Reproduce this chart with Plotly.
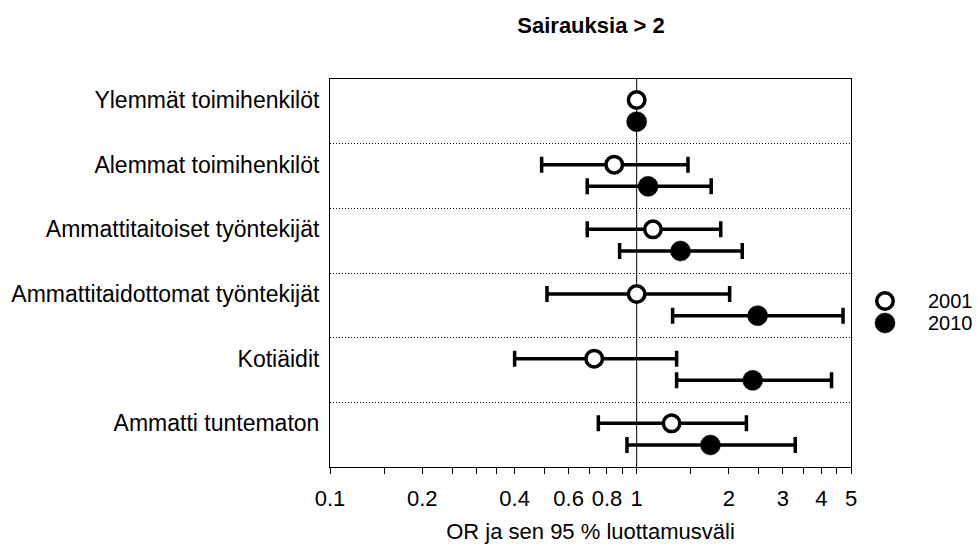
import math
import plotly.graph_objects as go

# Occupational groups, top to bottom
categories = [
    "Ylemmät toimihenkilöt",
    "Alemmat toimihenkilöt",
    "Ammattitaitoiset työntekijät",
    "Ammattitaidottomat työntekijät",
    "Kotiäidit",
    "Ammatti tuntematon",
]

# Odds ratios and 95 % confidence limits (reference group has no interval)
or_2001 = [1.0, 0.845, 1.13, 1.0, 0.727, 1.30]
lo_2001 = [None, 0.49, 0.69, 0.51, 0.40, 0.75]
hi_2001 = [None, 1.47, 1.88, 2.01, 1.35, 2.28]

or_2010 = [1.0, 1.09, 1.39, 2.48, 2.39, 1.74]
lo_2010 = [None, 0.69, 0.88, 1.31, 1.35, 0.93]
hi_2010 = [None, 1.75, 2.21, 4.71, 4.32, 3.29]

x_tickvals = [0.1, 0.15, 0.2, 0.25, 0.3, 0.35, 0.4, 0.5, 0.6, 0.7, 0.8, 0.9,
              1, 1.5, 2, 2.5, 3, 3.5, 4, 4.5, 5]
x_labelled = ["0.1", "0.2", "0.4", "0.6", "0.8", "1", "2", "3", "4", "5"]

FONT = "Arial, Liberation Sans, Helvetica, sans-serif"
FS = 22

x_ticktext = [("%g" % v) if ("%g" % v) in x_labelled else "" for v in x_tickvals]


def err_plus(c, h):
    return [None if hh is None else hh - cc for cc, hh in zip(c, h)]


def err_minus(c, l):
    return [None if ll is None else cc - ll for cc, ll in zip(c, l)]


OFFSET_2010 = 0.335
y_2001 = [i for i in range(len(categories))]
y_2010 = [i + OFFSET_2010 for i in range(len(categories))]

W, H = 979, 544
ML, MR, MT, MB = 330, 128, 79, 77

fig = go.Figure()

fig.add_trace(go.Scatter(
    x=or_2001, y=y_2001, mode="markers", name="2001", showlegend=False,
    marker=dict(symbol="circle", size=16.5, color="white",
                line=dict(color="black", width=3.5)),
    error_x=dict(type="data", symmetric=False,
                 array=err_plus(or_2001, hi_2001),
                 arrayminus=err_minus(or_2001, lo_2001),
                 color="black", thickness=3.5, width=8),
))

fig.add_trace(go.Scatter(
    x=or_2010, y=y_2010, mode="markers", name="2010", showlegend=False,
    marker=dict(symbol="circle", size=20, color="black",
                line=dict(color="black", width=0.5)),
    error_x=dict(type="data", symmetric=False,
                 array=err_plus(or_2010, hi_2010),
                 arrayminus=err_minus(or_2010, lo_2010),
                 color="black", thickness=3.5, width=8),
))

# Reference line at OR = 1
fig.add_shape(type="line", xref="x", yref="paper", x0=1, x1=1, y0=0, y1=1,
              line=dict(color="black", width=1), layer="below", opacity=1)

# Key: pixel-sized circles with year labels to the right of the plot
plot_w = W - ML - MR
plot_h = H - MT - MB
legend_items = [("2001", "white", 3.5, 16.5, 301), ("2010", "black", 0.5, 20, 323)]
for label, fill, lw, d, py in legend_items:
    yy = (H - MB - py) / plot_h
    fig.add_shape(type="circle", xref="paper", yref="paper",
                  xsizemode="pixel", ysizemode="pixel",
                  xanchor=(885 - ML) / plot_w, yanchor=yy,
                  x0=-d / 2, x1=d / 2, y0=-d / 2, y1=d / 2,
                  fillcolor=fill, opacity=1, layer="above",
                  line=dict(color="black", width=lw))
    fig.add_annotation(text=label, xref="paper", yref="paper",
                       x=(926 - ML) / plot_w, y=yy, height=18,
                       xanchor="left", yanchor="middle", valign="middle",
                       showarrow=False,
                       font=dict(family=FONT, size=20, color="black"))

fig.update_layout(
    width=W, height=H,
    template="none",
    paper_bgcolor="white", plot_bgcolor="white",
    margin=dict(l=ML, r=MR, t=MT, b=MB, pad=0),
    font=dict(family=FONT, size=FS, color="black"),
    title=dict(text="<b>Sairauksia > 2</b>", x=591 / W, y=1 - 25 / H,
               xref="container", yref="container",
               xanchor="center", yanchor="middle",
               font=dict(family=FONT, size=FS, color="black")),
    showlegend=False,
    xaxis=dict(
        type="log", range=[math.log10(0.1), math.log10(5)],
        tickvals=x_tickvals, ticktext=x_ticktext,
        ticks="outside", ticklen=6, tickwidth=1, tickcolor="black",
        ticklabelstandoff=6,
        showline=True, linecolor="black", linewidth=1, mirror=True,
        showgrid=False, zeroline=False, automargin=False,
        tickfont=dict(family=FONT, size=FS, color="black"),
        title=dict(text="OR ja sen 95 % luottamusväli", standoff=14,
                   font=dict(family=FONT, size=FS, color="black")),
    ),
    yaxis=dict(
        range=[len(categories) - 0.325, -0.325],
        tickvals=list(range(len(categories))), ticktext=categories,
        ticks="", showline=True, linecolor="black", linewidth=1, mirror=True,
        showgrid=False, zeroline=False, automargin=False,
        ticklabelstandoff=5,
        tickfont=dict(family=FONT, size=23, color="black"),
        minor=dict(tickvals=[i + 0.675 for i in range(len(categories) - 1)],
                   showgrid=True, gridcolor="black", gridwidth=1,
                   griddash="1px,2px", ticks=""),
    ),
)

fig.write_html("out.html")
